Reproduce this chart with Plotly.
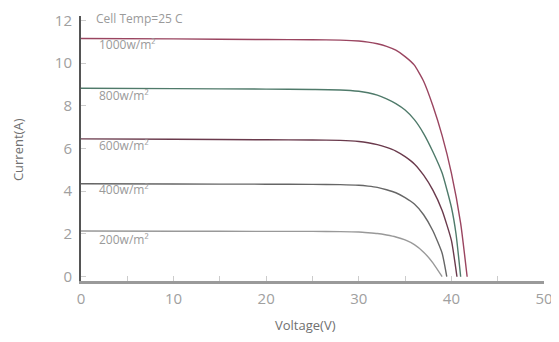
import plotly.graph_objects as go

# Data (I-V curves at 25 C)
v_1000 = [0, 10, 20, 25, 28, 30, 31, 32, 33, 34, 35, 36, 37, 38, 39, 40, 41, 41.7]
i_1000 = [11.15, 11.13, 11.1, 11.09, 11.07, 11.03, 10.98, 10.9, 10.78, 10.6, 10.3, 9.9, 9.15, 8.0, 6.6, 4.85, 2.5, 0]

v_800 = [0, 10, 20, 25, 28, 30, 31, 32, 33, 34, 35, 36, 37, 38, 39, 40, 40.5, 41.0]
i_800 = [8.82, 8.8, 8.78, 8.76, 8.74, 8.68, 8.61, 8.5, 8.32, 8.1, 7.8, 7.35, 6.7, 5.85, 4.85, 3.25, 2.0, 0]

v_600 = [0, 10, 20, 25, 28, 30, 31, 32, 33, 34, 35, 36, 37, 38, 39, 40, 40.6]
i_600 = [6.45, 6.43, 6.41, 6.4, 6.38, 6.33, 6.27, 6.18, 6.05, 5.88, 5.62, 5.28, 4.75, 4.05, 3.1, 1.7, 0]

v_400 = [0, 10, 20, 25, 28, 30, 31, 32, 33, 34, 35, 36, 37, 38, 39, 39.5]
i_400 = [4.35, 4.34, 4.33, 4.32, 4.31, 4.28, 4.24, 4.18, 4.07, 3.93, 3.7, 3.4, 2.9, 2.15, 1.1, 0]

v_200 = [0, 10, 20, 25, 28, 30, 31, 32, 33, 34, 35, 36, 37, 38, 39]
i_200 = [2.14, 2.13, 2.12, 2.12, 2.11, 2.09, 2.06, 2.02, 1.95, 1.86, 1.72, 1.5, 1.15, 0.65, 0]

series_names = ["1000w/m²", "800w/m²", "600w/m²", "400w/m²", "200w/m²"]
series_v = [v_1000, v_800, v_600, v_400, v_200]
series_i = [i_1000, i_800, i_600, i_400, i_200]
colors = ["#9a4560", "#4f7a6a", "#6a3a4c", "#666666", "#999999"]

x_ticks = [0, 10, 20, 30, 40, 50]
y_ticks = [0, 2, 4, 6, 8, 10, 12]

fig = go.Figure()
for name, vv, ii, c in zip(series_names, series_v, series_i, colors):
    fig.add_trace(go.Scatter(x=vv, y=ii, mode="lines", name=name,
                             line=dict(color=c, width=1.4, shape="spline", smoothing=0.5),
                             showlegend=False))

FONT = "Open Sans, DejaVu Sans, sans-serif"
lab_font = dict(family=FONT, size=12, color="#9a9a9a")
fig.add_annotation(x=1.4, y=12.1, text="Cell Temp=25 C", showarrow=False,
                   xanchor="left", yanchor="middle", font=lab_font)
label_y = [10.89, 8.46, 6.16, 4.06, 1.72]
for name, ly in zip(series_names, label_y):
    fig.add_annotation(x=1.7, y=ly, text=name, showarrow=False,
                       xanchor="left", yanchor="middle", font=lab_font)

# axis titles
title_font = dict(family=FONT, size=13, color="#707070")
fig.add_annotation(xref="paper", yref="paper", x=0.484, y=-0.166, text="Voltage(V)",
                   showarrow=False, xanchor="center", yanchor="middle", font=title_font)
fig.add_annotation(xref="paper", yref="paper", x=-0.136, y=0.494, text="Current(A)",
                   showarrow=False, xanchor="center", yanchor="middle", textangle=-90,
                   font=title_font)

tick_font = dict(family=FONT, size=15, color="#a0a0a0")
# page body adds an 8px offset, so the figure is sized to fit the window
fig.update_layout(
    width=551, height=334,
    margin=dict(l=73, r=15, t=8, b=61),
    plot_bgcolor="white", paper_bgcolor="white",
    xaxis=dict(range=[0, 50], tickvals=x_ticks, showgrid=False, zeroline=False,
               showline=True, linecolor="#9a9a9a", linewidth=2.5, automargin=False,
               ticks="inside", ticklen=5, tickcolor="#cccccc",
               minor=dict(dtick=5, ticks="inside", ticklen=5, tickcolor="#cccccc"),
               tickfont=tick_font, ticklabelstandoff=2),
    yaxis=dict(range=[-0.2, 12.2], tickvals=y_ticks, showgrid=False, zeroline=False,
               showline=True, linecolor="#555555", linewidth=2, automargin=False,
               ticks="inside", ticklen=5, tickcolor="#cccccc",
               tickfont=tick_font, ticklabelstandoff=4),
)

fig.write_html("out.html")
